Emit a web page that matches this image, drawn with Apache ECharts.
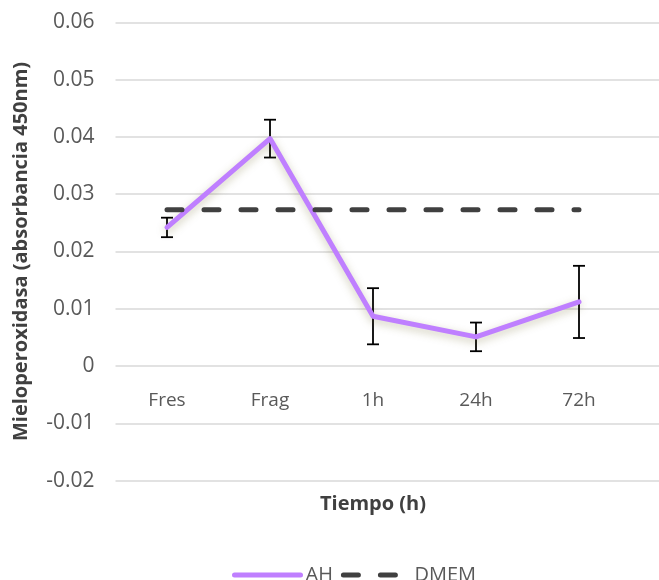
<!DOCTYPE html>
<html><head><meta charset="utf-8">
<script src="https://cdn.jsdelivr.net/npm/echarts@6/dist/echarts.min.js"></script>
<style>html,body{margin:0;padding:0;background:#fff}#c{width:659px;height:580px}</style>
</head><body><div id="c"></div>
<script>
const categories = ['Fres', 'Frag', '1h', '24h', '72h'];
const ahValues = [0.0242, 0.0397, 0.0087, 0.0051, 0.0112];
const ahErrors = [0.0017, 0.0033, 0.0049, 0.0025, 0.0063];
const dmemValues = [0.0273, 0.0273, 0.0273, 0.0273, 0.0273];
const yTicks = { min: -0.02, max: 0.06, interval: 0.01 };

const errData = categories.map((c, i) => [i, ahValues[i] - ahErrors[i], ahValues[i] + ahErrors[i]]);
const FONT = '"Open Sans", sans-serif';
const GRID_TOP = 22.3, GRID_H = 458.4;
// distance from grid bottom (y = -0.02) up to the y = 0 line
const zeroOffset = GRID_H * (0 - yTicks.min) / (yTicks.max - yTicks.min);

const chart = echarts.init(document.getElementById('c'), null, {renderer: 'canvas'});
chart.setOption({
  animation: false,
  grid: [
    {left: 115.5, right: 28.5, top: GRID_TOP, height: GRID_H, containLabel: false, outerBoundsMode: 'none'},
    {left: 115.5, right: 0, top: GRID_TOP, height: GRID_H, containLabel: false, outerBoundsMode: 'none'}
  ],
  xAxis: [
    {
      type: 'category', data: categories, gridIndex: 0, boundaryGap: true,
      offset: -zeroOffset,
      axisLine: {show: false, onZero: false}, axisTick: {show: false},
      axisLabel: {color: '#595959', fontSize: 19, fontFamily: FONT, margin: 25},
      name: 'Tiempo (h)', nameLocation: 'middle', nameGap: 128,
      nameTextStyle: {color: '#404040', fontSize: 20, fontWeight: 'bold', fontFamily: FONT}
    },
    {type: 'value', gridIndex: 1, show: false, min: 0, max: 1}
  ],
  yAxis: [
    {
      type: 'value', gridIndex: 0, min: yTicks.min, max: yTicks.max, interval: yTicks.interval,
      axisLine: {show: false}, axisTick: {show: false}, splitLine: {show: false},
      axisLabel: {color: '#595959', fontSize: 21, fontFamily: FONT, margin: 21,
        formatter: v => String(+v.toFixed(2))},
      name: 'Mieloperoxidasa (absorbancia 450nm)', nameLocation: 'middle', nameGap: 84,
      nameTextStyle: {color: '#404040', fontSize: 20, fontWeight: 'bold', fontFamily: FONT}
    },
    {
      type: 'value', gridIndex: 1, min: yTicks.min, max: yTicks.max, interval: yTicks.interval,
      axisLine: {show: false}, axisTick: {show: false}, axisLabel: {show: false},
      splitLine: {show: true, lineStyle: {color: '#d9d9d9', width: 1.5}}
    }
  ],
  legend: {
    top: 560, left: 227, padding: 5, itemWidth: 66, itemHeight: 14, itemGap: 8,
    itemStyle: {opacity: 0},
    textStyle: {color: '#595959', fontSize: 20, fontFamily: FONT},
    data: [
      {name: 'AH', lineStyle: {width: 5}},
      {name: 'DMEM', lineStyle: {width: 5}}
    ]
  },
  series: [
    {
      type: 'custom', name: 'err', xAxisIndex: 0, yAxisIndex: 0, z: 2,
      data: errData,
      renderItem: function (params, api) {
        const x = api.value(0);
        const lo = api.coord([x, api.value(1)]);
        const hi = api.coord([x, api.value(2)]);
        const hw = 6;
        const st = {stroke: '#000', lineWidth: 1.8};
        return {type: 'group', children: [
          {type: 'line', shape: {x1: lo[0], y1: lo[1], x2: hi[0], y2: hi[1]}, style: st},
          {type: 'line', shape: {x1: lo[0] - hw, y1: lo[1], x2: lo[0] + hw, y2: lo[1]}, style: st},
          {type: 'line', shape: {x1: hi[0] - hw, y1: hi[1], x2: hi[0] + hw, y2: hi[1]}, style: st}
        ]};
      }
    },
    {
      type: 'line', name: 'AH', data: ahValues, xAxisIndex: 0, yAxisIndex: 0, z: 3,
      symbol: 'none', color: '#bf7fff',
      lineStyle: {color: '#bf7fff', width: 5, cap: 'round', join: 'round',
        shadowColor: 'rgba(110,100,40,0.35)', shadowBlur: 8, shadowOffsetY: 3}
    },
    {
      type: 'line', name: 'DMEM', data: dmemValues, xAxisIndex: 0, yAxisIndex: 0, z: 4,
      symbol: 'none', color: '#404040',
      lineStyle: {color: '#404040', width: 5, type: [15, 22], cap: 'round'}
    }
  ]
});
</script>
</body></html>
